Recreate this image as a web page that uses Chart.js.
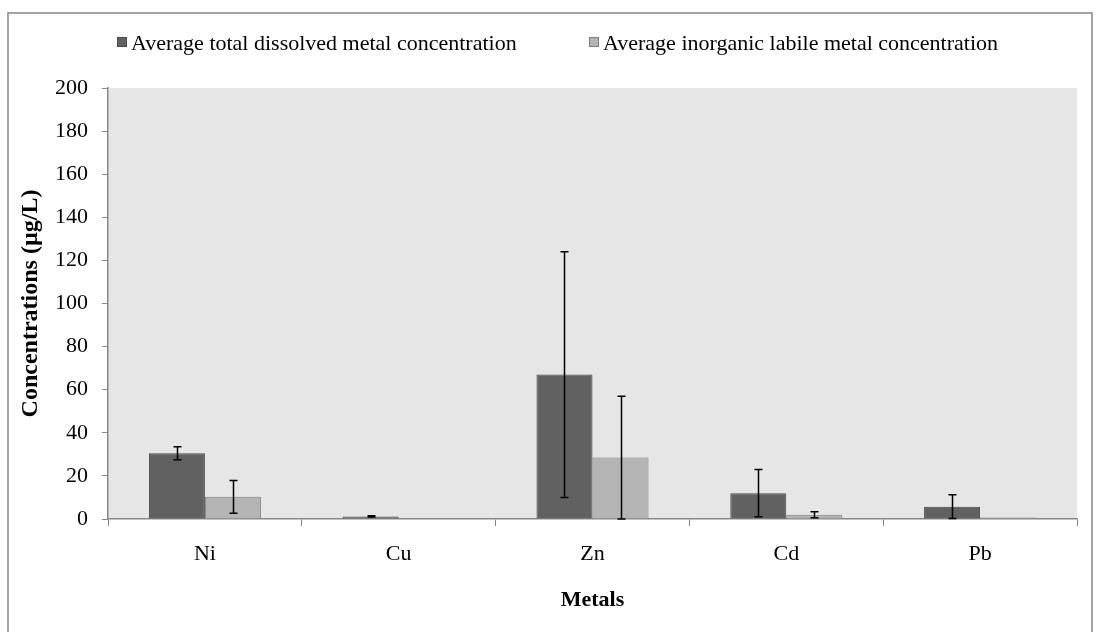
<!DOCTYPE html>
<html>
<head>
<meta charset="utf-8">
<script src="https://cdn.jsdelivr.net/npm/chart.js@4"></script>
<style>
  body { margin: 0; background: #fff; }
  #wrap { width: 1100px; height: 632px; position: relative; }
</style>
</head>
<body>
<div id="wrap"><canvas id="myChart" width="1100" height="632"></canvas></div>
<script>
const metals = ["Ni", "Cu", "Zn", "Cd", "Pb"];
const totalLabel = "Average total dissolved metal concentration";
const labileLabel = "Average inorganic labile metal concentration";
const totalValues = [30.5, 1.2, 67, 12, 5.7];
const totalErrors = [3, 0.3, 57, 11, 5.5];
const labileValues = [10.3, 0, 28.5, 2, 0.7];
const labileErrors = [7.6, 0, 28.5, 1.4, 0];
const yTicks = [0, 20, 40, 60, 80, 100, 120, 140, 160, 180, 200];

const fontFamily = "'Liberation Serif', 'Times New Roman', serif";
const axisGray = "#878787";

// plot background + outer frame
const backgroundPlugin = {
    id: "bg",
    beforeDraw(chart) {
        const ctx = chart.ctx;
        const a = chart.chartArea;
        ctx.save();
        ctx.fillStyle = "#e6e6e6";
        ctx.fillRect(a.left, a.top, a.right - a.left, a.bottom - a.top);
        ctx.strokeStyle = "#a3a3a3";
        ctx.lineWidth = 2;
        ctx.strokeRect(8, 13, 1084, 640);
        ctx.restore();
    }
};

// error bars, positioned with the chart's own scales
const errorBarPlugin = {
    id: "errorBars",
    afterDatasetsDraw(chart) {
        const ctx = chart.ctx;
        const yScale = chart.scales.y;
        ctx.save();
        ctx.strokeStyle = "#000";
        ctx.lineWidth = 1.5;
        chart.data.datasets.forEach((ds, i) => {
            const meta = chart.getDatasetMeta(i);
            meta.data.forEach((bar, j) => {
                const err = ds.errors[j];
                if (!err) return;
                const v = ds.data[j];
                const yTop = yScale.getPixelForValue(v + err);
                const yBot = yScale.getPixelForValue(Math.max(0, v - err));
                const x = Math.round(bar.x) + 0.5;
                ctx.beginPath();
                ctx.moveTo(x, yTop);
                ctx.lineTo(x, yBot);
                ctx.moveTo(x - 4, yTop);
                ctx.lineTo(x + 4, yTop);
                ctx.moveTo(x - 4, yBot);
                ctx.lineTo(x + 4, yBot);
                ctx.stroke();
            });
        });
        ctx.restore();
    }
};

// legend drawn at the top, items spaced like the original
const legendPlugin = {
    id: "topLegend",
    afterDraw(chart) {
        const ctx = chart.ctx;
        const xs = [117, 589];
        ctx.save();
        ctx.font = "22px " + fontFamily;
        ctx.textBaseline = "middle";
        chart.data.datasets.forEach((ds, i) => {
            ctx.fillStyle = ds.backgroundColor;
            ctx.strokeStyle = ds.borderColor;
            ctx.lineWidth = 1;
            ctx.fillRect(xs[i], 37, 10, 10);
            ctx.strokeRect(xs[i] + 0.5, 37.5, 9, 9);
            ctx.fillStyle = "#000";
            ctx.fillText(ds.label, xs[i] + 14, 44);
        });
        ctx.restore();
    }
};

const ctx = document.getElementById("myChart").getContext("2d");
const myChart = new Chart(ctx, {
    type: "bar",
    data: {
        labels: metals,
        datasets: [{
            label: totalLabel,
            data: totalValues,
            errors: totalErrors,
            backgroundColor: "#616161",
            borderColor: "#474747",
            borderWidth: 1
        }, {
            label: labileLabel,
            data: labileValues,
            errors: labileErrors,
            backgroundColor: "#b4b4b4",
            borderColor: "#7c7c7c",
            borderWidth: 1
        }]
    },
    options: {
        responsive: false,
        animation: false,
        devicePixelRatio: 1,
        categoryPercentage: 0.578,
        barPercentage: 1,
        layout: { padding: { left: 0, right: 23, top: 88, bottom: 0 } },
        plugins: {
            legend: { display: false },
            tooltip: { enabled: false }
        },
        scales: {
            x: {
                afterFit(scale) { scale.height = 113; },
                grid: {
                    drawOnChartArea: false,
                    color: axisGray,
                    tickLength: 7,
                    offset: true
                },
                border: { color: axisGray, width: 1.5 },
                ticks: {
                    color: "#000",
                    font: { family: fontFamily, size: 22 },
                    padding: 15
                },
                title: {
                    display: true,
                    text: "Metals",
                    color: "#000",
                    font: { family: fontFamily, size: 22, weight: "bold" },
                    padding: { top: 4, bottom: 18 }
                }
            },
            y: {
                min: 0,
                max: 200,
                afterFit(scale) { scale.width = 108; },
                afterBuildTicks(scale) { scale.ticks = yTicks.map(v => ({ value: v })); },
                grid: {
                    drawOnChartArea: false,
                    color: axisGray,
                    tickLength: 6
                },
                border: { color: axisGray, width: 1.5 },
                ticks: {
                    color: "#000",
                    font: { family: fontFamily, size: 22 },
                    padding: 14
                },
                title: {
                    display: true,
                    text: "Concentrations (µg/L)",
                    color: "#000",
                    font: { family: fontFamily, size: 24, weight: "bold" },
                    padding: { top: 16, bottom: 0 }
                }
            }
        }
    },
    plugins: [backgroundPlugin, errorBarPlugin, legendPlugin]
});
</script>
</body>
</html>
